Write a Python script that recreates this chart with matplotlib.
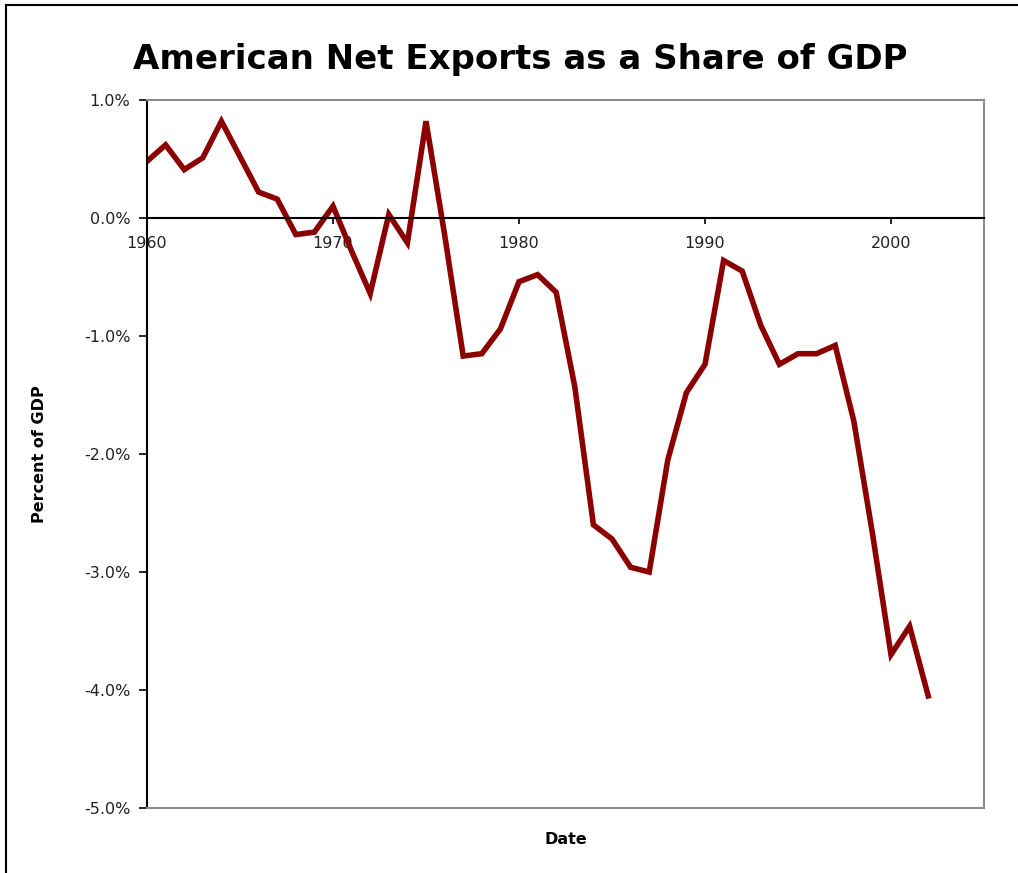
import matplotlib
matplotlib.use("Agg")
import matplotlib.pyplot as plt
from matplotlib.lines import Line2D
from matplotlib.ticker import FuncFormatter

years = list(range(1960, 2003))
net_exports_pct = [
    0.48, 0.62, 0.41, 0.51, 0.82, 0.52, 0.22, 0.16, -0.14, -0.12,
    0.10, -0.28, -0.64, 0.03, -0.21, 0.82, -0.14, -1.17, -1.15, -0.94,
    -0.54, -0.48, -0.63, -1.43, -2.60, -2.72, -2.96, -3.00, -2.05, -1.48,
    -1.24, -0.36, -0.45, -0.91, -1.24, -1.15, -1.15, -1.08, -1.72, -2.67,
    -3.70, -3.46, -4.05,
]
x_ticks = [1960, 1970, 1980, 1990, 2000]
y_ticks = [1.0, 0.0, -1.0, -2.0, -3.0, -4.0, -5.0]

title = "American Net Exports as a Share of GDP"
x_label = "Date"
y_label = "Percent of GDP"

fig = plt.figure(figsize=(10.18, 8.73), dpi=100)
ax = fig.add_axes([147/1018, 1-808/873, (984-147)/1018, (808-100)/873])

ax.plot(years, net_exports_pct, color="#8B0000", lw=4.0, solid_joinstyle="miter")

ax.set_xlim(1960, 2005)
ax.set_ylim(-5.0, 1.0)
ax.set_xticks(x_ticks)
ax.set_yticks(y_ticks)
ax.yaxis.set_major_formatter(FuncFormatter(lambda v, p: f"{v:.1f}%"))

for s in ["top", "right"]:
    ax.spines[s].set_color("#8c8c8c")
    ax.spines[s].set_linewidth(1.5)
ax.spines["left"].set_color("black")
ax.spines["left"].set_linewidth(1.5)
ax.spines["bottom"].set_position(("data", 0))
ax.spines["bottom"].set_color("black")
ax.spines["bottom"].set_linewidth(1.5)
ax.axhline(-5.0, color="#8c8c8c", lw=1.5, clip_on=False, zorder=3)

ax.tick_params(axis="y", direction="out", length=6, width=1.2, labelsize=11.5,
               colors="black", labelcolor="#222222", pad=6)
ax.tick_params(axis="x", direction="out", length=4, width=1.2, labelsize=11.5,
               colors="black", labelcolor="#222222", pad=9)

fig.text(0.511, 1-60/873, title, ha="center", va="center",
         fontsize=24.5, fontweight="bold", family="DejaVu Sans")
fig.text(40/1018, 1-454/873, y_label, rotation=90, ha="center", va="center",
         fontsize=11.5, fontweight="bold")
fig.text(566/1018, 1-840/873, x_label, ha="center", va="center",
         fontsize=11.5, fontweight="bold")

fig.add_artist(Line2D([6/1018, 6/1018], [0, 1-5/873], transform=fig.transFigure,
                      color="black", lw=1.5))
fig.add_artist(Line2D([6/1018, 1], [1-5/873, 1-5/873], transform=fig.transFigure,
                      color="black", lw=1.5))

fig.savefig("out.png", dpi=100)
